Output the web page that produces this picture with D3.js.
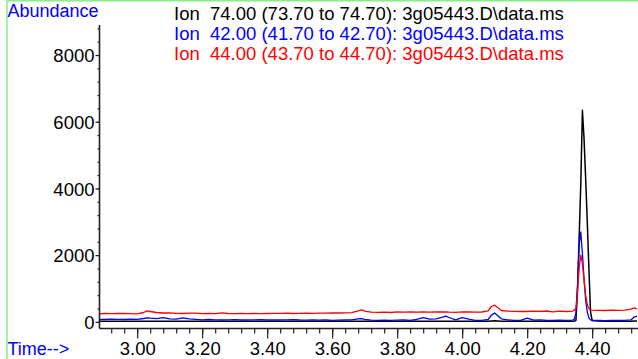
<!DOCTYPE html>
<html><head><meta charset="utf-8">
<script src="https://cdn.jsdelivr.net/npm/d3@7"></script>
<style>html,body{margin:0;padding:0;background:#fff;}svg{display:block;}</style>
</head><body>
<svg id="chart" width="638" height="359"></svg>
<script>
const times = [
 2.88,2.90,2.92,2.94,2.96,2.98,3.00,3.02,3.03,3.04,
 3.06,3.08,3.10,3.12,3.14,3.16,3.18,3.20,3.22,3.24,
 3.26,3.28,3.30,3.32,3.34,3.36,3.38,3.40,3.42,3.44,
 3.46,3.48,3.50,3.52,3.54,3.56,3.58,3.60,3.62,3.64,
 3.66,3.68,3.69,3.70,3.72,3.74,3.76,3.78,3.80,3.82,
 3.84,3.86,3.88,3.90,3.92,3.94,3.95,3.96,3.98,4.00,
 4.02,4.04,4.06,4.08,4.09,4.10,4.11,4.12,4.14,4.16,
 4.18,4.20,4.22,4.24,4.26,4.28,4.30,4.32,4.34,4.345,
 4.35,4.355,4.36,4.365,4.37,4.375,4.38,4.385,4.39,4.395,
 4.40,4.42,4.44,4.46,4.48,4.50,4.52,4.53,4.54
];
const ion74 = [
 15,18,14,16,15,17,14,16,18,15,
 16,17,15,14,16,15,14,15,16,14,
 15,16,14,15,16,14,15,16,15,14,
 15,16,15,14,16,15,14,15,16,15,
 16,15,17,16,15,14,16,15,14,15,
 16,15,17,15,16,18,17,16,15,17,
 15,14,15,18,25,30,22,16,15,14,
 15,16,15,14,15,16,15,14,15,20,
 40,950,2540,4120,6345,5500,4300,3000,1600,300,
 40,25,20,18,16,18,20,25,22
];
const ion42 = [
 75,70,80,75,70,80,75,100,120,110,
 95,125,90,80,120,90,75,60,70,60,
 55,60,65,55,55,60,65,55,60,55,
 60,65,55,50,60,50,55,45,50,55,
 60,90,95,70,50,45,50,45,50,55,
 45,70,125,80,90,140,170,130,60,125,
 80,45,45,70,200,265,180,90,60,45,
 45,110,50,60,45,45,50,45,50,80,
 250,1100,2300,2694,2050,1300,650,300,120,60,
 40,40,35,40,40,45,60,150,170
];
const ion44 = [
 240,250,245,255,250,245,240,280,330,310,
 280,265,270,255,250,262,258,245,250,248,
 270,250,248,255,245,250,245,250,252,255,
 262,250,255,260,255,260,258,265,265,270,
 275,330,360,320,290,285,290,280,300,290,
 295,290,300,290,300,295,300,290,285,300,
 295,290,295,330,460,500,420,340,320,315,
 310,310,320,315,325,300,320,310,320,350,
 400,900,1600,2000,1750,1250,800,520,400,360,
 350,345,340,350,345,350,380,420,380
];
const legendLabels = [
 "Ion  74.00 (73.70 to 74.70): 3g05443.D\\data.ms",
 "Ion  42.00 (41.70 to 42.70): 3g05443.D\\data.ms",
 "Ion  44.00 (43.70 to 44.70): 3g05443.D\\data.ms"
];
const seriesColors = ["#000000", "#0000ff", "#ff0000"];
const xMajorTicks = [3.00,3.20,3.40,3.60,3.80,4.00,4.20,4.40];
const yMajorTicks = [0,2000,4000,6000,8000];

const svg = d3.select("#chart");
const FONT = "'Liberation Sans', Arial, sans-serif";
const pLeft = 99.5, pRight = 637, pTop = 25, pBottom = 328.5;

const x = d3.scaleLinear().domain([2.884, 4.538]).range([pLeft, pRight]);
const y = d3.scaleLinear().domain([-200, 8900]).range([pBottom, pTop]);

// green frame
svg.append("line").attr("x1",7).attr("x2",7).attr("y1",0).attr("y2",359)
  .attr("stroke","#88ee88").attr("stroke-width",1.5);
svg.append("line").attr("x1",7).attr("x2",638).attr("y1",0.75).attr("y2",0.75)
  .attr("stroke","#88ee88").attr("stroke-width",1.5);

svg.append("defs").append("clipPath").attr("id","clip")
  .append("rect").attr("x",pLeft).attr("y",pTop-5).attr("width",pRight-pLeft).attr("height",pBottom-pTop+4);

const g = svg.append("g").attr("clip-path","url(#clip)");
const line = d3.line().x((d,i)=>x(times[i])).y(d=>y(d));
[ion74, ion42, ion44].forEach((s,k)=>{
  g.append("path").datum(s).attr("d",line).attr("fill","none")
   .attr("stroke",seriesColors[k]).attr("stroke-width",k===0?1.5:1.3).attr("stroke-linejoin","round");
});

// X axis
const xMinor = d3.range(2.92, 4.54, 0.04).map(v=>+v.toFixed(2));
const xAxisMinor = d3.axisBottom(x).tickValues(xMinor).tickSize(5).tickFormat("");
const xAxisMajor = d3.axisBottom(x).tickValues(xMajorTicks).tickSize(10).tickPadding(4).tickFormat(d3.format(".2f"));
const gxm = svg.append("g").attr("transform",`translate(0,${pBottom})`).call(xAxisMinor);
const gx = svg.append("g").attr("transform",`translate(0,${pBottom})`).call(xAxisMajor);
[gxm,gx].forEach(a=>{a.select(".domain").remove(); a.selectAll("line").attr("stroke","#222").attr("stroke-width",1.2);});
gx.selectAll("text").attr("font-family",FONT).attr("font-size",18.5).attr("fill","#000").attr("dy",null).attr("y",26.5);
svg.append("line").attr("x1",pLeft).attr("x2",pRight+1).attr("y1",pBottom).attr("y2",pBottom).attr("stroke","#222").attr("stroke-width",1.6);

// Y axis
const yMinor = d3.range(0, 8900, 400);
const yAxisMinor = d3.axisLeft(y).tickValues(yMinor).tickSize(2).tickFormat("");
const yAxisMajor = d3.axisLeft(y).tickValues(yMajorTicks).tickSize(4).tickPadding(1).tickFormat(d3.format("d"));
const gym = svg.append("g").attr("transform",`translate(${pLeft},0)`).call(yAxisMinor);
const gy = svg.append("g").attr("transform",`translate(${pLeft},0)`).call(yAxisMajor);
[gym,gy].forEach(a=>{a.select(".domain").remove(); a.selectAll("line").attr("stroke","#222").attr("stroke-width",1.2);});
gy.selectAll("text").attr("font-family",FONT).attr("font-size",18.5).attr("fill","#000").attr("dy","0.36em");
svg.append("line").attr("x1",pLeft).attr("x2",pLeft).attr("y1",pTop).attr("y2",pBottom).attr("stroke","#222").attr("stroke-width",1.6);

// Titles
svg.append("text").attr("x",7.5).attr("y",17).attr("font-family",FONT).attr("font-size",18)
  .attr("fill","#0000ff").text("Abundance");
svg.append("text").attr("x",7.5).attr("y",355).attr("font-family",FONT).attr("font-size",18)
  .attr("fill","#0000ff").text("Time-->");

// Legend
legendLabels.forEach((t,i)=>{
  svg.append("text").attr("x",174).attr("y",19.5+i*20).attr("font-family",FONT).attr("font-size",18.5)
    .attr("fill",seriesColors[i]).attr("xml:space","preserve").style("white-space","pre").text(t);
});
</script>
</body></html>
